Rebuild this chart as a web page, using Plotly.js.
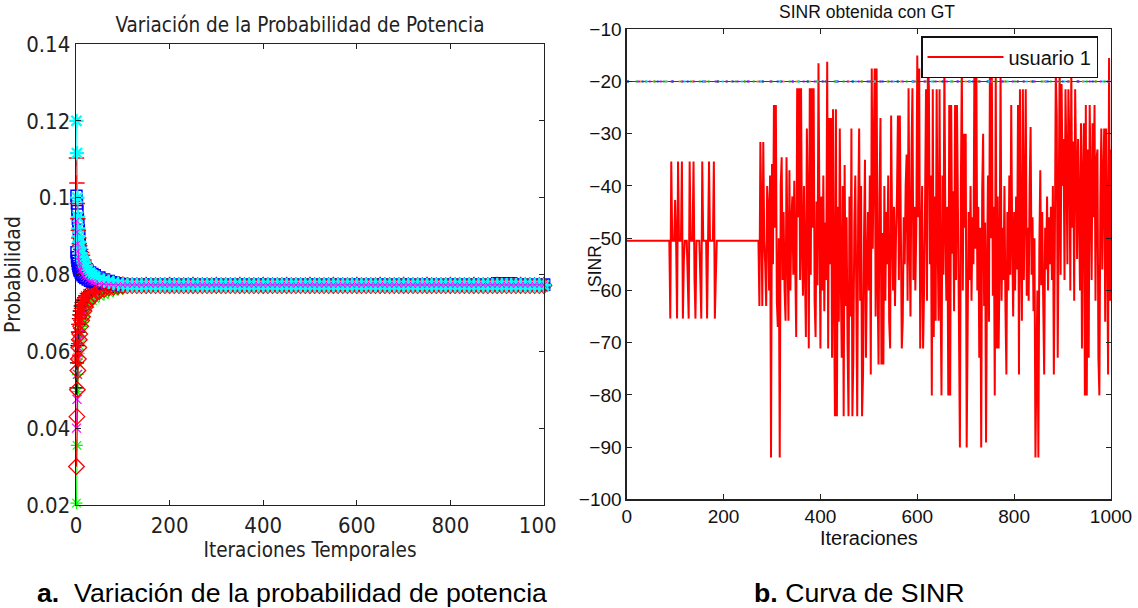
<!DOCTYPE html>
<html>
<head>
<meta charset="utf-8">
<script src="https://cdn.plot.ly/plotly-3.0.1.min.js"></script>
<style>
html,body{margin:0;padding:0;background:#ffffff;}
#plot{width:1138px;height:608px;}
</style>
</head>
<body>
<div id="plot"></div>
<script>
// ================= LEFT CHART DATA (probability per power level) =================
const xTicksLeft = [0, 200, 400, 600, 800, 1000];
const yTicksLeft = [0.02, 0.04, 0.06, 0.08, 0.1, 0.12, 0.14];

const iterDense = [1, 2, 3, 4, 5, 6, 7, 8, 10, 12, 14, 17, 20, 25, 30, 35, 40, 50, 60, 70, 80, 90, 100,
  110, 120, 130, 140, 150, 160, 170, 180, 190, 200,
  210, 220, 230, 240, 250, 260, 270, 280, 290, 300,
  310, 320, 330, 340, 350, 360, 370, 380, 390, 400,
  410, 420, 430, 440, 450, 460, 470, 480, 490, 500,
  510, 520, 530, 540, 550, 560, 570, 580, 590, 600,
  610, 620, 630, 640, 650, 660, 670, 680, 690, 700,
  710, 720, 730, 740, 750, 760, 770, 780, 790, 800,
  810, 820, 830, 840, 850, 860, 870, 880, 890, 900,
  910, 920, 930, 940, 950, 960, 970, 980, 990, 1000];

const iterSparse = [1, 2, 3, 4, 5, 6, 7, 8, 10, 12, 14, 17, 20, 25, 30, 35, 40, 50, 60, 70, 80, 90, 100,
  150, 200, 250, 300, 350, 400, 450, 500, 550, 600, 650, 700, 750, 800, 850, 900, 950, 1000];

const probCyanStar = [0.120, 0.1116, 0.100, 0.095, 0.092, 0.090, 0.0885, 0.087, 0.0855, 0.0845, 0.0838, 0.083, 0.0822, 0.0812, 0.0805, 0.0799, 0.0795, 0.0788, 0.0784, 0.0781, 0.0778, 0.0776, 0.0774,
  0.0772, 0.0772, 0.0772, 0.0772, 0.0772, 0.0772, 0.0772, 0.0772, 0.0772, 0.0772,
  0.0772, 0.0772, 0.0772, 0.0772, 0.0772, 0.0772, 0.0772, 0.0772, 0.0772, 0.0772,
  0.0772, 0.0772, 0.0772, 0.0772, 0.0772, 0.0772, 0.0772, 0.0772, 0.0772, 0.0772,
  0.0772, 0.0772, 0.0772, 0.0772, 0.0772, 0.0772, 0.0772, 0.0772, 0.0772, 0.0772,
  0.0772, 0.0772, 0.0772, 0.0772, 0.0772, 0.0772, 0.0772, 0.0772, 0.0772, 0.0772,
  0.0772, 0.0772, 0.0772, 0.0772, 0.0772, 0.0772, 0.0772, 0.0772, 0.0772, 0.0772,
  0.0772, 0.0772, 0.0772, 0.0772, 0.0772, 0.0772, 0.0772, 0.0772, 0.0772, 0.0772,
  0.0772, 0.0772, 0.0772, 0.0772, 0.0772, 0.0772, 0.0772, 0.0772, 0.0772, 0.0772,
  0.0772, 0.0772, 0.0772, 0.0772, 0.0772, 0.0772, 0.0772, 0.0772, 0.0772, 0.0772];

const probRedDiamond = [0.030, 0.043, 0.050, 0.055, 0.058, 0.061, 0.063, 0.0645, 0.0665, 0.068, 0.069, 0.0705, 0.0715, 0.0727, 0.0735, 0.0742, 0.0748, 0.0756, 0.0761, 0.0765, 0.0767, 0.0769, 0.0770,
  0.0771, 0.0771, 0.0771, 0.0771, 0.0771, 0.0771, 0.0771, 0.0771, 0.0771, 0.0771,
  0.0771, 0.0771, 0.0771, 0.0771, 0.0771, 0.0771, 0.0771, 0.0771, 0.0771, 0.0771,
  0.0771, 0.0771, 0.0771, 0.0771, 0.0771, 0.0771, 0.0771, 0.0771, 0.0771, 0.0771,
  0.0771, 0.0771, 0.0771, 0.0771, 0.0771, 0.0771, 0.0771, 0.0771, 0.0771, 0.0771,
  0.0771, 0.0771, 0.0771, 0.0771, 0.0771, 0.0771, 0.0771, 0.0771, 0.0771, 0.0771,
  0.0771, 0.0771, 0.0771, 0.0771, 0.0771, 0.0771, 0.0771, 0.0771, 0.0771, 0.0771,
  0.0771, 0.0771, 0.0771, 0.0771, 0.0771, 0.0771, 0.0771, 0.0771, 0.0771, 0.0771,
  0.0771, 0.0771, 0.0771, 0.0771, 0.0771, 0.0771, 0.0771, 0.0771, 0.0771, 0.0771,
  0.0771, 0.0771, 0.0771, 0.0771, 0.0771, 0.0771, 0.0771, 0.0771, 0.0771, 0.0771];

const probMagentaLine = [0.094, 0.091, 0.088, 0.086, 0.0845, 0.0835, 0.0827, 0.082, 0.081, 0.0803, 0.0798, 0.0793, 0.0789, 0.0785, 0.0782, 0.078, 0.0778, 0.0776, 0.0775, 0.0774, 0.0773, 0.0773, 0.0773,
  0.0773, 0.0773, 0.0773, 0.0773, 0.0773, 0.0773, 0.0773, 0.0773, 0.0773, 0.0773,
  0.0773, 0.0773, 0.0773, 0.0773, 0.0773, 0.0773, 0.0773, 0.0773, 0.0773, 0.0773,
  0.0773, 0.0773, 0.0773, 0.0773, 0.0773, 0.0773, 0.0773, 0.0773, 0.0773, 0.0773,
  0.0773, 0.0773, 0.0773, 0.0773, 0.0773, 0.0773, 0.0773, 0.0773, 0.0773, 0.0773,
  0.0773, 0.0773, 0.0773, 0.0773, 0.0773, 0.0773, 0.0773, 0.0773, 0.0773, 0.0773,
  0.0773, 0.0773, 0.0773, 0.0773, 0.0773, 0.0773, 0.0773, 0.0773, 0.0773, 0.0773,
  0.0773, 0.0773, 0.0773, 0.0773, 0.0773, 0.0773, 0.0773, 0.0773, 0.0773, 0.0773,
  0.0773, 0.0773, 0.0773, 0.0773, 0.0773, 0.0773, 0.0773, 0.0773, 0.0773, 0.0773,
  0.0773, 0.0773, 0.0773, 0.0773, 0.0773, 0.0773, 0.0773, 0.0773, 0.0773, 0.0773];

const probBlueSquare = [0.1005, 0.0985, 0.0965, 0.0945, 0.093, 0.0915, 0.090, 0.0885, 0.086, 0.0845, 0.0835, 0.0825, 0.0818, 0.081, 0.0805, 0.0801, 0.0798, 0.0792, 0.0787, 0.0783, 0.078, 0.0777, 0.0775,
  0.0773, 0.0773, 0.0773, 0.0773, 0.0773, 0.0773, 0.0773, 0.0773, 0.0773, 0.0773,
  0.0773, 0.0773, 0.0773, 0.0773, 0.0773, 0.0773, 0.0773, 0.0773, 0.0773, 0.0773,
  0.0773, 0.0773, 0.0773, 0.0773, 0.0773, 0.0773, 0.0773, 0.0773, 0.0773, 0.0773,
  0.0773, 0.0773, 0.0773, 0.0773, 0.0773, 0.0773, 0.0773, 0.0773, 0.0773, 0.0773,
  0.0773, 0.0773, 0.0773, 0.0773, 0.0773, 0.0773, 0.0773, 0.0773, 0.0773, 0.0773,
  0.0773, 0.0773, 0.0773, 0.0773, 0.0773, 0.0773, 0.0773, 0.0773, 0.0773, 0.0773,
  0.0773, 0.0773, 0.0773, 0.0773, 0.0773, 0.0773, 0.0773, 0.0773, 0.0773, 0.0773,
  0.0773, 0.0773, 0.0773, 0.0773, 0.0773, 0.0773, 0.0773, 0.0773, 0.0773, 0.0777,
  0.0777, 0.0777, 0.0777, 0.0773, 0.0773, 0.0773, 0.0773, 0.0773, 0.0773, 0.0773];

const probRedPlus = [0.1103, 0.1038, 0.0985, 0.0945, 0.0915, 0.0895, 0.088, 0.0875, 0.0865, 0.0857, 0.085, 0.0838, 0.0828, 0.0815, 0.0806, 0.080, 0.0795, 0.0788, 0.0783, 0.078, 0.0778, 0.0776, 0.0775,
  0.0774, 0.0774, 0.0774, 0.0774, 0.0774, 0.0774, 0.0774, 0.0774, 0.0774, 0.0774, 0.0774, 0.0774, 0.0774, 0.0774, 0.0774, 0.0774, 0.0774, 0.0774];

const probBlueSquare2 = [0.0858, 0.0845, 0.0836, 0.0828, 0.0822, 0.0817, 0.0813, 0.081, 0.0805, 0.0801, 0.0798, 0.0794, 0.0791, 0.0787, 0.0784, 0.0782, 0.078, 0.0777, 0.0776, 0.0775, 0.0774, 0.0773, 0.0773,
  0.0773, 0.0773, 0.0773, 0.0773, 0.0773, 0.0773, 0.0773, 0.0773, 0.0773, 0.0773, 0.0773, 0.0773, 0.0773, 0.0773, 0.0773, 0.0773, 0.0773, 0.0773];

const probBlackPlus = [0.0505, 0.057, 0.0615, 0.065, 0.067, 0.0685, 0.0695, 0.0705, 0.0718, 0.0727, 0.0733, 0.074, 0.0745, 0.075, 0.0755, 0.0758, 0.076, 0.0764, 0.0767, 0.0769, 0.077, 0.0771, 0.0771,
  0.0771, 0.0771, 0.0771, 0.0771, 0.0771, 0.0771, 0.0771, 0.0771, 0.0771, 0.0771, 0.0771, 0.0771, 0.0771, 0.0771, 0.0771, 0.0771, 0.0771, 0.0771];

const probGreenStar = [0.0205, 0.0355, 0.0495, 0.054, 0.057, 0.0595, 0.0615, 0.063, 0.065, 0.0665, 0.0675, 0.069, 0.070, 0.0715, 0.0725, 0.0732, 0.0738, 0.0744, 0.0748, 0.0753, 0.0757, 0.076, 0.0762,
  0.0765, 0.0765, 0.0765, 0.0765, 0.0765, 0.0765, 0.0765, 0.0765, 0.0765, 0.0765, 0.0765, 0.0765, 0.0765, 0.0765, 0.0765, 0.0765, 0.0765, 0.0765];

const probMagentaX = [0.040, 0.0475, 0.054, 0.058, 0.061, 0.063, 0.0645, 0.066, 0.068, 0.0693, 0.0703, 0.0715, 0.0723, 0.0733, 0.074, 0.0746, 0.075, 0.0757, 0.0762, 0.0765, 0.0768, 0.0769, 0.077,
  0.0771, 0.0771, 0.0771, 0.0771, 0.0771, 0.0771, 0.0771, 0.0771, 0.0771, 0.0771, 0.0771, 0.0771, 0.0771, 0.0771, 0.0771, 0.0771, 0.0771, 0.0771];

const probRedStar = [0.058, 0.062, 0.065, 0.067, 0.0685, 0.0695, 0.0705, 0.0712, 0.0722, 0.0729, 0.0735, 0.0741, 0.0745, 0.0751, 0.0755, 0.0758, 0.0761, 0.0764, 0.0767, 0.0769, 0.077, 0.0771, 0.0771,
  0.0771, 0.0771, 0.0771, 0.0771, 0.0771, 0.0771, 0.0771, 0.0771, 0.0771, 0.0771, 0.0771, 0.0771, 0.0771, 0.0771, 0.0771, 0.0771, 0.0771, 0.0771];

// ================= RIGHT CHART DATA (SINR of usuario 1, every 2 iterations from 0 to 1000) =================
const xTicksRight = [0, 200, 400, 600, 800, 1000];
const yTicksRight = [-100, -90, -80, -70, -60, -50, -40, -30, -20, -10];
const sinrStartIter = 0;
const sinrStepIter = 2;
const sinrUsuario1 = [
  // 0-48
  -50.5, -50.5, -50.5, -50.5, -50.5,  -50.5, -50.5, -50.5, -50.5, -50.5,  -50.5, -50.5, -50.5, -50.5, -50.5,  -50.5, -50.5, -50.5, -50.5, -50.5,  -50.5, -50.5, -50.5, -50.5, -50.5,
  // 50-98
  -50.5, -50.5, -50.5, -50.5, -50.5,  -50.5, -50.5, -50.5, -50.5, -50.5,  -50.5, -50.5, -50.5, -50.5, -50.5,  -50.5, -50.5, -50.5, -50.5, -50.5,  -65.4, -35.3, -50.5, -50.5, -50.5,
  // 100-148
  -42.7, -50.5, -65.4, -35.3, -50.5,  -50.5, -50.5, -35.3, -65.4, -54.2,  -50.5, -50.5, -50.5, -57.6, -65.4,  -35.3, -50.5, -50.5, -50.5, -35.3,  -57.6, -65.4, -50.5, -50.5, -50.5,
  // 150-198
  -50.5, -57.6, -65.4, -35.3, -50.5,  -50.5, -50.5, -50.5, -65.4, -50.5,  -35.3, -50.5, -50.5, -50.5, -50.5,  -35.3, -65.4, -57.6, -50.5, -50.5,  -50.5, -50.5, -50.5, -50.5, -50.5,
  // 200-248
  -50.5, -50.5, -50.5, -50.5, -50.5,  -50.5, -50.5, -50.5, -50.5, -50.5,  -50.5, -50.5, -50.5, -50.5, -50.5,  -50.5, -50.5, -50.5, -50.5, -50.5,  -50.5, -50.5, -50.5, -50.5, -50.5,
  // 250-298
  -50.5, -50.5, -50.5, -50.5, -50.5,  -50.5, -50.5, -50.5, -50.5, -50.5,  -50.5, -50.5, -63, -31.6, -45,  -63, -31.6, -50.5, -55, -63,  -40, -44, -60, -38, -92,
  // 300-348
  -35.8, -55, -24.5, -48, -24.5,  -62, -67, -50, -92, -40,  -34.5, -58, -45, -60, -65.8,  -34.5, -52, -65.8, -37, -60,  -47, -42, -57, -39, -55,
  // 350-398
  -68.9, -21.3, -46, -21.3, -58,  -21.3, -52, -61, -40, -56,  -68.9, -29, -44, -71.1, -21.3,  -57, -21.3, -48, -21.3, -62,  -68.9, -43, -59, -16.5, -45,
  // 400-448
  -71.1, -42, -60, -38, -64,  -47, -58, -16.2, -71.1, -27,  -55, -27, -72.9, -25.3, -61,  -84.1, -25.3, -84.1, -44, -66,  -29, -57, -72.9, -40, -84.1,
  // 450-498
  -36, -63, -46, -70, -84.1,  -42, -65, -29, -84.1, -72.9,  -48, -38, -60, -84.1, -44,  -29, -62, -40, -84.1, -76.1,  -50, -35, -72.9, -56, -45,
  // 500-548
  -60, -38, -76.1, -17.5, -52,  -34, -17.5, -65, -17.5, -58,  -74.2, -42, -27, -74.2, -49,  -74.2, -40, -62, -45, -55,  -38, -66, -71.1, -26.5, -48,
  // 550-598
  -60, -44, -63, -50, -42,  -26.5, -58, -26.5, -47, -71.1,  -65.8, -46, -55, -40, -34,  -62, -21.3, -50, -65, -34,  -21.3, -58, -44, -60, -48,
  // 600-648
  -15, -46, -17.5, -71.1, -52,  -40, -71.1, -60, -44, -21.5,  -62, -14, -21.5, -55, -38,  -80.1, -21.5, -68.9, -42, -65.8,  -21.5, -50, -65.8, -21.5, -60,
  // 650-698
  -80.1, -38, -57, -16, -48,  -62, -44, -80.1, -24.5, -80.1,  -24.5, -53, -41, -64, -24.5,  -58, -24.5, -45, -66, -90.1,  -40, -17, -60, -30, -48,
  // 700-748
  -30, -90.1, -67.1, -45, -58,  -40, -62, -46, -55, -15,  -52, -17, -60, -44, -72.9,  -48, -90.1, -41, -30, -63,  -47, -89.1, -56, -38, -66,
  // 750-798
  -16, -50, -19, -61, -44,  -80.1, -18, -71.1, -42, -71.1,  -55, -17, -62, -48, -58,  -40, -63, -76.1, -45, -60,  -38, -57, -24.5, -50, -65,
  // 800-848
  -45, -60, -42, -56, -24.5,  -76.1, -21.5, -52, -65.8, -21.5,  -58, -44, -21.5, -61, -48,  -62, -40, -28.7, -57, -46,  -64, -50, -92, -74.2, -60,
  // 850-898
  -92, -52, -37, -59, -45,  -62, -76.1, -48, -56, -42,  -60, -46, -55, -44, -58,  -40, -76.1, -52, -18, -26.6,  -72.9, -45, -16, -57, -20.5,
  // 900-948
  -40, -31, -58, -21.5, -35,  -55, -21.5, -31.5, -60, -17,  -48, -31.5, -62, -21.5, -36,  -54, -31, -44, -60, -28,  -71.1, -38, -28, -80.1, -24.5,
  // 950-998
  -80.1, -33, -72.9, -24.5, -40,  -58, -28, -46, -24.5, -62,  -35, -33, -72.9, -80.1, -43,  -29, -56, -38, -29, -66,  -29, -48, -76.1, -15.5, -62,
  // 1000
  -33
];

// target SINR reference lines (several users drawn on top of each other)
const targetIter = [0, 1000];
const targetSinr = [-20, -20];

// ================= STYLES =================
const fontNarrow = '"Liberation Sans Narrow", "DejaVu Sans Condensed", "Arial Narrow", sans-serif';
const fontArial = '"Liberation Sans", Arial, Helvetica, sans-serif';
const W = 1138, H = 608;
const px = v => v / W;
const py = v => 1 - v / H;

function probTrace(x, y, color, symbol, size, lw) {
  return {
    type: 'scatter', mode: 'lines+markers', x: x, y: y,
    xaxis: 'x', yaxis: 'y', showlegend: false, cliponaxis: false, hoverinfo: 'skip',
    line: {color: color, width: 1},
    marker: {symbol: symbol, size: size, color: color, line: {color: color, width: lw}}
  };
}

const traces = [
  probTrace(iterSparse, probGreenStar, '#00ff00', 'asterisk-open', 10, 1.2),
  probTrace(iterSparse, probMagentaX, '#ff00ff', 'x-thin-open', 9, 1.2),
  probTrace(iterSparse, probBlackPlus, '#000000', 'cross-thin-open', 10, 1.3),
  probTrace(iterSparse, probRedStar, '#ff0000', 'asterisk-open', 10, 1.2),
  probTrace(iterSparse, probBlueSquare2, '#0000ff', 'square-open', 11, 1.5),
  probTrace(iterDense, probBlueSquare, '#0000ff', 'square-open', 11, 1.5),
  probTrace(iterSparse, probRedPlus, '#ff0000', 'cross-thin-open', 11, 1.5),
  probTrace(iterDense, probRedDiamond, '#ff0000', 'diamond-open', 12, 1.3),
  probTrace(iterDense, probCyanStar, '#00ffff', 'asterisk-open', 12, 2.4),
  probTrace(iterDense, probMagentaLine, '#ff00ff', 'x-thin-open', 6, 1.0),
  {
    type: 'scatter', mode: 'lines', name: 'usuario 1',
    x0: sinrStartIter, dx: sinrStepIter, y: sinrUsuario1,
    xaxis: 'x2', yaxis: 'y2', line: {color: '#ff0000', width: 2, simplify: false},
    showlegend: true, hoverinfo: 'skip'
  }
];

const targetStyles = [
  {color: '#3a3a3a', dash: 'solid', width: 1},
  {color: '#ff8c00', dash: '2px,11px', width: 2},
  {color: '#00c000', dash: '2px,7px', width: 2},
  {color: '#0040ff', dash: '2px,13px', width: 2},
  {color: '#c000ff', dash: '2px,9px', width: 2},
  {color: '#00d0ff', dash: '2px,17px', width: 2}
];
targetStyles.forEach(s => traces.push({
  type: 'scatter', mode: 'lines', x: targetIter, y: targetSinr,
  xaxis: 'x2', yaxis: 'y2', showlegend: false, hoverinfo: 'skip',
  line: {color: s.color, dash: s.dash, width: s.width}
}));

const axisCommon = {
  ticks: 'inside', ticklen: 5, tickwidth: 1, tickcolor: '#222',
  mirror: 'ticks', showline: true, linecolor: '#222', linewidth: 1.3,
  showgrid: false, zeroline: false, automargin: false, fixedrange: true
};

const layout = {
  width: W, height: H,
  margin: {l: 0, r: 0, t: 0, b: 0},
  paper_bgcolor: '#ffffff', plot_bgcolor: '#ffffff',
  showlegend: true,
  title: {
    text: 'Variación de la Probabilidad de Potencia',
    font: {family: fontNarrow, size: 20.5, color: '#222'},
    x: px(300), xref: 'paper', xanchor: 'center',
    y: py(25), yref: 'paper', yanchor: 'middle'
  },
  xaxis: Object.assign({}, axisCommon, {
    domain: [px(76), px(544)], anchor: 'y', range: [0, 1000],
    tickvals: xTicksLeft,
    tickfont: {family: fontNarrow, size: 22, color: '#222'},
    title: {text: 'Iteraciones Temporales', font: {family: fontNarrow, size: 20.5, color: '#222'}, standoff: 0}
  }),
  yaxis: Object.assign({}, axisCommon, {
    domain: [py(505), py(44)], anchor: 'x', range: [0.02, 0.14],
    tickvals: yTicksLeft,
    tickfont: {family: fontNarrow, size: 22, color: '#222'},
    title: {text: 'Probabilidad', font: {family: fontNarrow, size: 21, color: '#222'}, standoff: 0}
  }),
  xaxis2: Object.assign({}, axisCommon, {
    domain: [px(626.7), px(1111)], anchor: 'y2', range: [0, 1000],
    tickvals: xTicksRight,
    tickfont: {family: fontArial, size: 19, color: '#111'},
    title: {text: 'Iteraciones', font: {family: fontArial, size: 20, color: '#111'}, standoff: 0}
  }),
  yaxis2: Object.assign({}, axisCommon, {
    domain: [py(499.3), py(29.3)], anchor: 'x2', range: [-100, -10],
    tickvals: yTicksRight,
    tickfont: {family: fontArial, size: 19, color: '#111'}
  }),
  legend: {
    x: px(921), y: py(36), xref: 'paper', yref: 'paper', xanchor: 'left', yanchor: 'top',
    bgcolor: '#ffffff', bordercolor: '#111', borderwidth: 1.5,
    font: {family: fontArial, size: 20, color: '#111'},
    itemwidth: 76
  },
  annotations: [
    {text: 'SINR obtenida con GT', xref: 'paper', yref: 'paper', x: px(867), y: py(12),
     xanchor: 'center', yanchor: 'middle', showarrow: false,
     font: {family: fontArial, size: 17.5, color: '#111'}},
    {text: 'SINR', xref: 'paper', yref: 'paper', x: px(595), y: py(266),
     xanchor: 'center', yanchor: 'middle', showarrow: false, textangle: -90,
     font: {family: fontArial, size: 17.5, color: '#111'}},
    {text: '<b>a.</b>&nbsp; Variación de la probabilidad de potencia', xref: 'paper', yref: 'paper',
     x: px(35), y: py(593), xanchor: 'left', yanchor: 'middle', showarrow: false,
     font: {family: fontArial, size: 26.7, color: '#000'}},
    {text: '<b>b.</b> Curva de SINR', xref: 'paper', yref: 'paper',
     x: px(752), y: py(593), xanchor: 'left', yanchor: 'middle', showarrow: false,
     font: {family: fontArial, size: 26.7, color: '#000'}}
  ],
  shapes: [
    {type: 'rect', xref: 'paper', yref: 'paper', x0: px(557), x1: px(575), y0: py(535), y1: py(510),
     fillcolor: '#ffffff', line: {width: 0}, layer: 'above'}
  ]
};

Plotly.newPlot('plot', traces, layout, {staticPlot: true, displayModeBar: false});
</script>
</body>
</html>
